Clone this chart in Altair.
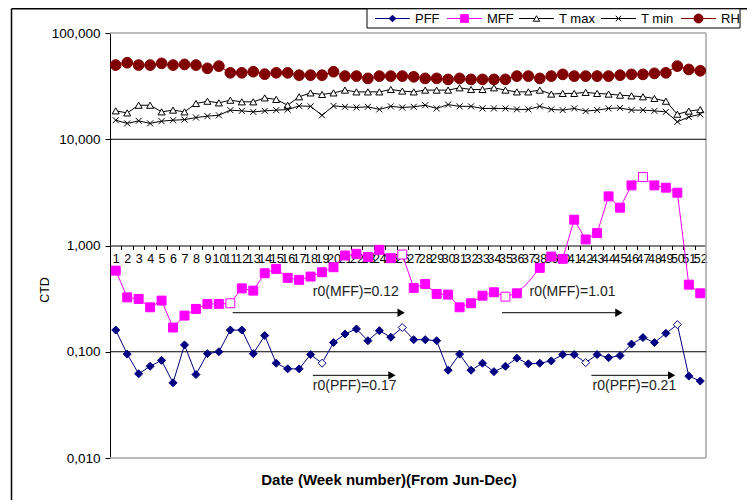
import altair as alt
import pandas as pd

# ---------------- data ----------------
weeks = list(range(1, 53))

pff = [0.160, 0.095, 0.062, 0.073, 0.083, 0.051, 0.116, 0.061, 0.096, 0.100,
       0.160, 0.160, 0.096, 0.142, 0.078, 0.069, 0.069, 0.094, 0.078, 0.122,
       0.147, 0.164, 0.127, 0.158, 0.137, 0.169, 0.130, 0.130,
       0.127, 0.067, 0.095, 0.067, 0.078, 0.065, 0.073, 0.087, 0.077, 0.078,
       0.082, 0.094, 0.094, 0.079, 0.094, 0.088, 0.092, 0.118, 0.136, 0.122,
       0.149, 0.180, 0.059, 0.053]

mff = [0.580, 0.325, 0.314, 0.262, 0.303, 0.169, 0.219, 0.253, 0.282, 0.282,
       0.286, 0.395, 0.376, 0.548, 0.603, 0.496, 0.475, 0.510, 0.560, 0.624,
       0.805, 0.835, 0.780, 0.910, 0.760, 0.822, 0.399, 0.435,
       0.350, 0.345, 0.262, 0.286, 0.337, 0.363, 0.330, 0.355, 0.451, 0.616,
       0.787, 0.749, 1.75, 1.14, 1.31, 2.90, 2.27, 3.68, 4.41, 3.68,
       3.50, 3.14, 0.428, 0.355]

tmax = [18.5, 17.7, 20.9, 20.9, 18.1, 18.8, 18.1, 21.7, 22.8, 22.0,
        23.3, 22.5, 22.5, 24.5, 23.7, 20.9, 25.1, 27.3, 26.4, 27.3,
        29.0, 27.9, 27.9, 27.9, 29.4, 28.4, 27.9, 29.0,
        29.0, 29.0, 30.5, 29.4, 29.4, 30.5, 29.0, 27.9, 27.9, 29.0,
        26.6, 27.0, 27.0, 27.6, 27.0, 26.6, 26.0, 25.6, 25.1, 24.2,
        22.8, 17.2, 18.4, 19.0]

tmin = [15.1, 14.1, 14.9, 14.1, 14.8, 15.1, 15.3, 16.0, 16.5, 16.8,
        18.8, 18.5, 18.1, 18.5, 18.8, 19.0, 20.6, 20.4, 16.8, 20.6,
        20.2, 19.9, 20.2, 19.1, 20.4, 19.9, 20.2, 20.9,
        19.5, 21.2, 20.4, 20.4, 19.5, 19.5, 19.5, 19.1, 19.1, 20.4,
        19.1, 18.8, 19.5, 18.4, 18.8, 19.5, 19.7, 18.8, 18.8, 18.5,
        18.1, 14.6, 16.2, 17.2]

rh = [49.9, 52.5, 49.9, 49.9, 51.8, 49.9, 50.6, 49.9, 46.5, 48.8,
      42.2, 42.2, 43.2, 41.0, 42.2, 42.2, 40.1, 40.1, 40.1, 43.2,
      39.3, 39.3, 37.4, 39.3, 39.3, 39.3, 38.7, 37.4,
      37.4, 36.6, 37.4, 36.6, 36.6, 36.6, 36.6, 39.3, 39.3, 37.4,
      39.3, 40.8, 39.3, 39.3, 39.3, 39.3, 40.1, 40.8, 40.8, 41.7,
      42.2, 48.8, 45.4, 44.1]

pff_hollow = [19, 26, 42, 50]
mff_hollow = [11, 26, 35, 47]
mff_nomarker = [37]

series_names = ["PFF", "MFF", "T max", "T min", "RH"]

y_ticks = [0.01, 0.1, 1, 10, 100]
gridline_values = [0.1, 10]
border_y_values = [0.01, 100]
border_x_values = [52.5]

arrow_start = [11.2, 34.7, 18.2, 42.5]
arrow_end = [25.9, 44.9, 25.1, 49.5]
arrow_value = [0.233, 0.233, 0.060, 0.060]

note_texts = ["r0(MFF)=0.12", "r0(MFF)=1.01", "r0(PFF)=0.17", "r0(PFF)=0.21"]
note_week = [18.2, 37.1, 18.2, 42.6]
note_value = [0.365, 0.365, 0.0476, 0.0476]

x_title = "Date (Week number)(From Jun-Dec)"
y_title = "CTD"

# ---------------- layout ----------------
W, H = 596, 425
BAND = W / 52
FONT = "Liberation Sans"
XSHAPE = "M-1,-1L1,1M1,-1L-1,1"

X_SCALE = alt.Scale(domain=[0.5, 52.5], nice=False, zero=False)
Y_SCALE = alt.Scale(type="log", domain=[0.01, 100], nice=False)

x_axis = alt.Axis(values=weeks, offset=-H / 2, title=None, tickSize=4,
                  tickOffset=-BAND / 2, labelOffset=BAND / 2, labelFontSize=12.5,
                  labelFont=FONT, labelColor="black", labelOverlap=False,
                  labelFlush=False, domainColor="black", tickColor="black",
                  grid=False, labelPadding=3, format="d")
y_axis = alt.Axis(values=y_ticks, title=None, grid=False, tickSize=5,
                  labelExpr="replace(format(datum.value, '.3f'), '.', ',')",
                  labelFontSize=13.5, labelFont=FONT, labelColor="black",
                  labelPadding=5, domainColor="black", tickColor="black")


def X(field="week"):
    return alt.X(f"{field}:Q", scale=X_SCALE, axis=x_axis)


def Y(field="value"):
    return alt.Y(f"{field}:Q", scale=Y_SCALE, axis=y_axis)


one = pd.DataFrame({"a": [0]})
layers = []

# plot border and gridlines
layers.append(alt.Chart(pd.DataFrame({"value": border_y_values}))
              .mark_rule(color="#a6a6a6", strokeWidth=1.5).encode(y=Y()))
layers.append(alt.Chart(pd.DataFrame({"week": border_x_values}))
              .mark_rule(color="#a6a6a6", strokeWidth=1.5).encode(x=X()))
layers.append(alt.Chart(pd.DataFrame({"value": gridline_values}))
              .mark_rule(color="black", strokeWidth=1).encode(y=Y()))


def add_series(values, color, shape, size, fill, hollow=(), nomarker=()):
    df = pd.DataFrame({"week": weeks, "value": values})
    df["hollow"] = df["week"].isin(list(hollow))
    layers.append(alt.Chart(df).mark_line(color=color, strokeWidth=1).encode(x=X(), y=Y()))
    dm = df[~df["week"].isin(list(nomarker))]
    layers.append(
        alt.Chart(dm).mark_point(shape=shape, size=size, filled=True, stroke=color,
                                 strokeWidth=1, opacity=1)
        .encode(x=X(), y=Y(),
                fill=alt.condition("datum.hollow", alt.value("white"), alt.value(fill)))
    )


add_series(pff, "#000080", "diamond", 64, "#000080", hollow=pff_hollow)
add_series(mff, "#FF00FF", "square", 80, "#FF00FF", hollow=mff_hollow, nomarker=mff_nomarker)
add_series(tmax, "#000000", "triangle-up", 50, "white")
add_series(tmin, "#000000", XSHAPE, 36, "transparent")
add_series(rh, "#800000", "circle", 115, "#800000")

# annotation arrows
arr = pd.DataFrame({"week": arrow_start, "week2": arrow_end, "value": arrow_value})
layers.append(alt.Chart(arr).mark_rule(color="black", strokeWidth=1)
              .encode(x=X(), x2="week2:Q", y=Y()))
layers.append(alt.Chart(arr).mark_point(shape="triangle-right", size=70, filled=True,
                                        color="black", opacity=1)
              .encode(x=X("week2"), y=Y()))
notes = pd.DataFrame({"week": note_week, "value": note_value, "text": note_texts})
layers.append(alt.Chart(notes).mark_text(align="left", baseline="middle", fontSize=14,
                                         font=FONT, color="#222222")
              .encode(x=X(), y=Y(), text="text:N"))

# titles
layers.append(alt.Chart(one).mark_text(angle=270, fontSize=12.5, font=FONT, color="black")
              .encode(x=alt.value(-65), y=alt.value(257), text=alt.value(y_title)))
layers.append(alt.Chart(one).mark_text(fontSize=15, fontWeight="bold", font=FONT, color="black")
              .encode(x=alt.value(279), y=alt.value(447), text=alt.value(x_title)))

# outer frame
layers.append(alt.Chart(one).mark_rule(color="black", strokeWidth=1.5)
              .encode(x=alt.value(-98.5), y=alt.value(-24.2), y2=alt.value(H + 42)))
layers.append(alt.Chart(one).mark_rule(color="black", strokeWidth=1.5)
              .encode(x=alt.value(-98.5), x2=alt.value(W + 41), y=alt.value(-24.2)))

# legend
layers.append(alt.Chart(one).mark_rect(fill="white", stroke="black", strokeWidth=1)
              .encode(x=alt.value(257), x2=alt.value(630), y=alt.value(-24.2), y2=alt.value(-5)))
leg_x0 = [265, 337, 409, 491, 571]
leg = pd.DataFrame({
    "name": series_names,
    "color": ["#000080", "#FF00FF", "#000000", "#000000", "#800000"],
    "shape": ["diamond", "square", "triangle-up", XSHAPE, "circle"],
    "fill": ["#000080", "#FF00FF", "white", "transparent", "#800000"],
    "size": [45, 60, 40, 30, 80],
})
leg["lx0"] = leg_x0
leg["lx1"] = [v + 35 for v in leg_x0]
leg["lxm"] = [v + 17.5 for v in leg_x0]
leg["lxt"] = [v + 40 for v in leg_x0]
LY = -14.5
layers.append(alt.Chart(leg).mark_rule(strokeWidth=1)
              .encode(x=alt.X("lx0:Q", scale=None, axis=None), x2="lx1:Q", y=alt.value(LY),
                      color=alt.Color("color:N", scale=None, legend=None)))
layers.append(alt.Chart(leg).mark_point(filled=True, strokeWidth=1, opacity=1)
              .encode(x=alt.X("lxm:Q", scale=None, axis=None), y=alt.value(LY),
                      shape=alt.Shape("shape:N", scale=None, legend=None),
                      fill=alt.Fill("fill:N", scale=None, legend=None),
                      stroke=alt.Stroke("color:N", scale=None, legend=None),
                      size=alt.Size("size:Q", scale=None, legend=None)))
layers.append(alt.Chart(leg).mark_text(align="left", baseline="middle", fontSize=13,
                                       font=FONT, color="black")
              .encode(x=alt.X("lxt:Q", scale=None, axis=None), y=alt.value(LY), text="name:N"))

chart = alt.layer(*layers).properties(
    width=W, height=H,
    autosize=alt.AutoSizeParams(type="none"),
    padding={"left": 102, "top": 25, "right": 41, "bottom": 42},
).configure_view(stroke=None)

chart.save("out.html", embed_options={"renderer": "svg", "actions": False})
